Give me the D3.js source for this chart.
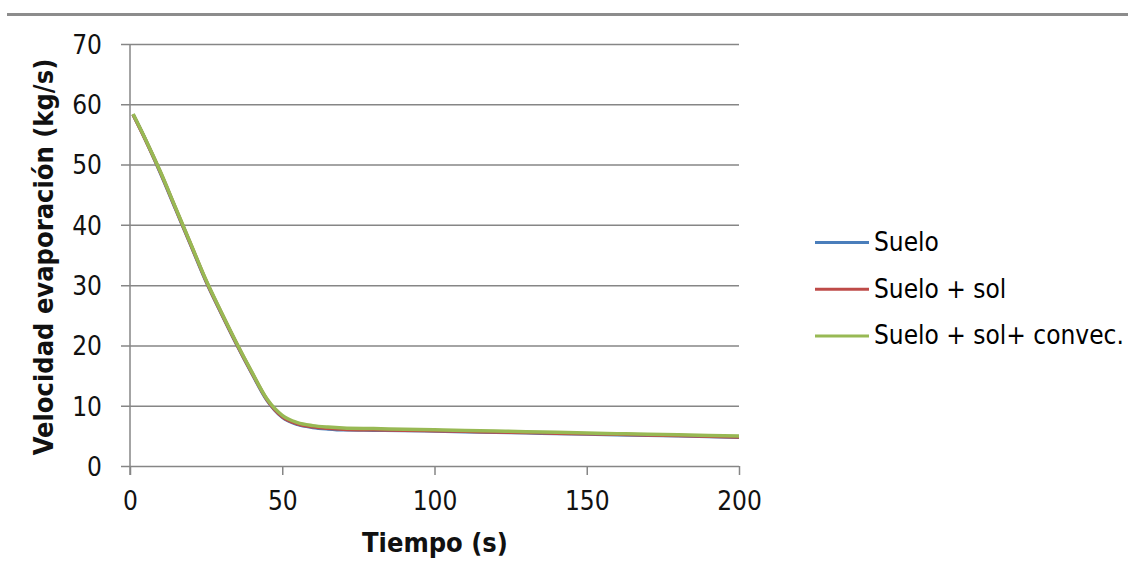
<!DOCTYPE html>
<html>
<head>
  <meta charset="utf-8">
  <script src="https://d3js.org/d3.v7.min.js"></script>
  <style type="text/css">
  body{
    margin: 0;
    background: #fff;
  }
  svg{
    display: block;
  }
  .tick text{
    font-family: "DejaVu Sans Condensed", "DejaVu Sans", sans-serif;
    font-size: 26px;
    fill: #111;
  }
  .axis path{
    display: none;
  }
  .axis line{
    stroke: #868686;
    stroke-width: 1.5px;
  }
  .title{
    font-family: "DejaVu Sans Condensed", "DejaVu Sans", sans-serif;
    font-size: 27px;
    font-weight: bold;
    fill: #111;
  }
  .legend text{
    font-family: "DejaVu Sans Condensed", "DejaVu Sans", sans-serif;
    font-size: 26px;
    fill: #000;
  }
  </style>
</head>
<body>
  <script type="text/javascript">
    // time (s)
    var tiempo = [1, 5, 10, 15, 20, 25, 30, 35, 40, 45, 50, 55, 60, 65, 70, 80, 90, 100,
                  110, 120, 130, 140, 150, 160, 170, 180, 190, 200];

    // evaporation rate (kg/s) for each case
    var suelo = [58.3, 54.2, 48.6, 42.6, 36.6, 30.6, 25.3, 20.2, 15.4, 10.9, 8.1, 6.9, 6.4, 6.15, 6.0,
                 5.95, 5.9, 5.8, 5.7, 5.6, 5.5, 5.4, 5.3, 5.2, 5.1, 5.0, 4.9, 4.78];
    var sueloSol = [58.3, 54.2, 48.7, 42.7, 36.7, 30.7, 25.4, 20.3, 15.5, 11.0, 8.2, 7.0, 6.5, 6.25, 6.1,
                    6.0, 5.95, 5.85, 5.75, 5.65, 5.55, 5.45, 5.35, 5.25, 5.15, 5.05, 4.95, 4.82];
    var sueloSolConvec = [58.4, 54.3, 48.8, 42.8, 36.8, 30.8, 25.5, 20.4, 15.6, 11.1, 8.4, 7.2, 6.7, 6.45, 6.3,
                          6.2, 6.1, 6.0, 5.9, 5.8, 5.7, 5.58, 5.47, 5.37, 5.27, 5.17, 5.07, 4.97];

    var seriesNames = ["Suelo", "Suelo + sol", "Suelo + sol+ convec."];
    var seriesColors = ["#4A7EBB", "#BE4B48", "#98B954"];
    var seriesValues = [suelo, sueloSol, sueloSolConvec];

    var xTicks = [0, 50, 100, 150, 200];
    var yTicks = [0, 10, 20, 30, 40, 50, 60, 70];

    var W = 1135, H = 581;
    var margin = {top: 44, left: 130},
      width = 609,
      height = 422;

    var svg = d3.select("body")
      .append("svg")
      .attr("width", W)
      .attr("height", H);

    // top separator line
    svg.append("line")
      .attr("x1", 7).attr("x2", 1128)
      .attr("y1", 14.5).attr("y2", 14.5)
      .attr("stroke", "#8c8c8c")
      .attr("stroke-width", 3);

    var g = svg.append("g")
      .attr("transform", "translate(" + margin.left + "," + margin.top + ")");

    var x = d3.scaleLinear().domain([0, 200]).range([0, width]);
    var y = d3.scaleLinear().domain([0, 70]).range([height, 0]);

    // horizontal gridlines (also act as y ticks)
    g.append("g")
      .attr("class", "axis yaxis")
      .call(d3.axisLeft(y)
        .tickValues(yTicks)
        .tickSize(-width)
        .tickPadding(28)
        .tickFormat(d3.format("d")))
      .call(function(s){
        s.selectAll(".tick line").attr("x1", -9);
        s.selectAll(".tick text").attr("dy", "0.36em");
      });

    // x ticks
    g.append("g")
      .attr("class", "axis xaxis")
      .attr("transform", "translate(0," + height + ")")
      .call(d3.axisBottom(x)
        .tickValues(xTicks)
        .tickSize(9)
        .tickPadding(17)
        .tickFormat(d3.format("d")));

    // vertical axis line
    g.append("line")
      .attr("x1", 0).attr("x2", 0)
      .attr("y1", 0).attr("y2", height + 9)
      .attr("stroke", "#868686")
      .attr("stroke-width", 1.5);

    var line = d3.line()
      .x(function(d, i){ return x(tiempo[i]); })
      .y(function(d){ return y(d); })
      .curve(d3.curveMonotoneX);

    seriesValues.forEach(function(vals, k){
      g.append("path")
        .datum(vals)
        .attr("fill", "none")
        .attr("stroke", seriesColors[k])
        .attr("stroke-width", 3.5)
        .attr("stroke-linejoin", "round")
        .attr("d", line);
    });

    // axis titles
    svg.append("text")
      .attr("class", "title")
      .attr("x", 435)
      .attr("y", 552)
      .attr("text-anchor", "middle")
      .text("Tiempo (s)");

    svg.append("text")
      .attr("class", "title")
      .attr("transform", "translate(53,257) rotate(-90)")
      .attr("text-anchor", "middle")
      .text("Velocidad evaporación (kg/s)");

    // legend
    var legend = svg.selectAll(".legend")
      .data(seriesNames)
      .enter().append("g")
      .attr("class", "legend")
      .attr("transform", function(d, i){ return "translate(815," + (242.5 + i * 46.7) + ")"; });

    legend.append("line")
      .attr("x1", 0).attr("x2", 54)
      .attr("stroke", function(d, i){ return seriesColors[i]; })
      .attr("stroke-width", 3);

    legend.append("text")
      .attr("x", 59)
      .attr("y", 8.5)
      .text(function(d){ return d; });
  </script>
</body>
</html>
